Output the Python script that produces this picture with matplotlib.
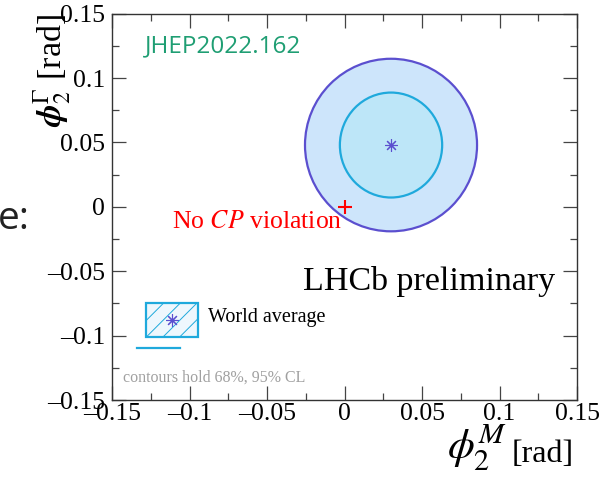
import matplotlib
matplotlib.use("Agg")
import matplotlib.pyplot as plt
from matplotlib.patches import Ellipse, Rectangle
from matplotlib.ticker import MultipleLocator, FuncFormatter

plt.rcParams['font.family'] = ['Liberation Serif', 'DejaVu Serif']
plt.rcParams['mathtext.fontset'] = 'stix'
plt.rcParams['hatch.color'] = '#c6e2f4'
plt.rcParams['hatch.linewidth'] = 0.7

# data
center = (0.030, 0.048)
outer_w, outer_h = 0.111, 0.134   # 95% CL contour
inner_w, inner_h = 0.066, 0.0815  # 68% CL contour
no_cpv = (0.0, 0.0)

fig = plt.figure(figsize=(6.0, 4.82), dpi=100)
ax = fig.add_axes([0.1867, 0.1701, 0.775, 0.8015])
ax.set_xlim(-0.15, 0.15)
ax.set_ylim(-0.15, 0.15)

ax.add_patch(Ellipse(center, outer_w, outer_h, facecolor='#cde5fb', edgecolor='#5b4fcf', lw=1.6, zorder=2))
ax.add_patch(Ellipse(center, inner_w, inner_h, facecolor='#bde6f8', edgecolor='#1fa9dc', lw=1.6, zorder=3))
ax.plot([center[0]], [center[1]], marker=(8, 2, 0), color='#5b4fcf', ms=9, mew=0.8, zorder=4)
ax.plot([no_cpv[0]], [no_cpv[1]], marker='+', color='red', ms=10, mew=1.5, zorder=5)

def fmt(v, pos):
    if abs(v) < 1e-9:
        return '0'
    s = ('%g' % abs(v))
    return ('\u2013' if v < 0 else '') + s

ax.xaxis.set_major_locator(MultipleLocator(0.05))
ax.yaxis.set_major_locator(MultipleLocator(0.05))
ax.xaxis.set_minor_locator(MultipleLocator(0.025))
ax.yaxis.set_minor_locator(MultipleLocator(0.025))
ax.xaxis.set_major_formatter(FuncFormatter(fmt))
ax.yaxis.set_major_formatter(FuncFormatter(fmt))
ax.tick_params(which='both', direction='in', top=True, right=True, labelsize=18.5, width=0.9, color='#444444')
ax.tick_params(which='major', length=10)
ax.tick_params(which='minor', length=5)
ax.tick_params(axis='x', pad=2)
ax.tick_params(axis='y', pad=5)
for s in ax.spines.values():
    s.set_linewidth(1.0)
    s.set_color('#333333')

# axis titles
fig.text(0.957, 0.027, '[rad]', ha='right', va='bottom', fontsize=23)
fig.text(0.845, 0.018, r'$\phi_2^M$', ha='right', va='bottom', fontsize=31)
fig.text(0.088, 1 - 70 / 482, r'$\boldsymbol{\phi}_2^{\Gamma}$ [rad]', ha='center', va='center', rotation=90, fontsize=24.5)

ax.text(-0.1287, 0.1249, 'JHEP2022.162', color='#1f9e73', fontsize=17.5, family=['Open Sans', 'DejaVu Sans'], va='center', ha='left')
ax.text(-0.1113, -0.0117, 'No $\\it{CP}$ violation', color='red', fontsize=18.5, va='center', ha='left')
ax.text(0.1358, -0.0583, 'LHCb preliminary', fontsize=24.5, va='center', ha='right')

# legend
ax.add_patch(Rectangle((-0.1281, -0.1010), 0.0336, 0.0265, facecolor='#eef7fd', edgecolor='#1fa9dc', lw=1.6, hatch='//', zorder=3))
ax.plot([-0.1113], [-0.0877], marker=(8, 2, 0), color='#5b4fcf', ms=9, mew=0.8, zorder=4)
ax.plot([-0.1339, -0.1061], [-0.1095, -0.1095], color='#1fa9dc', lw=1.6)
ax.text(-0.0881, -0.0862, 'World average', fontsize=14.5, va='center', ha='left')
ax.text(-0.1429, -0.1327, 'contours hold 68%, 95% CL', fontsize=11.5, color='#a0a0a0', va='center', ha='left')

fig.text(-0.004, 0.545, 'e:', fontsize=28, family=['Open Sans', 'DejaVu Sans'], va='center', ha='left', color='#222222')

fig.savefig('out.png', dpi=100)
